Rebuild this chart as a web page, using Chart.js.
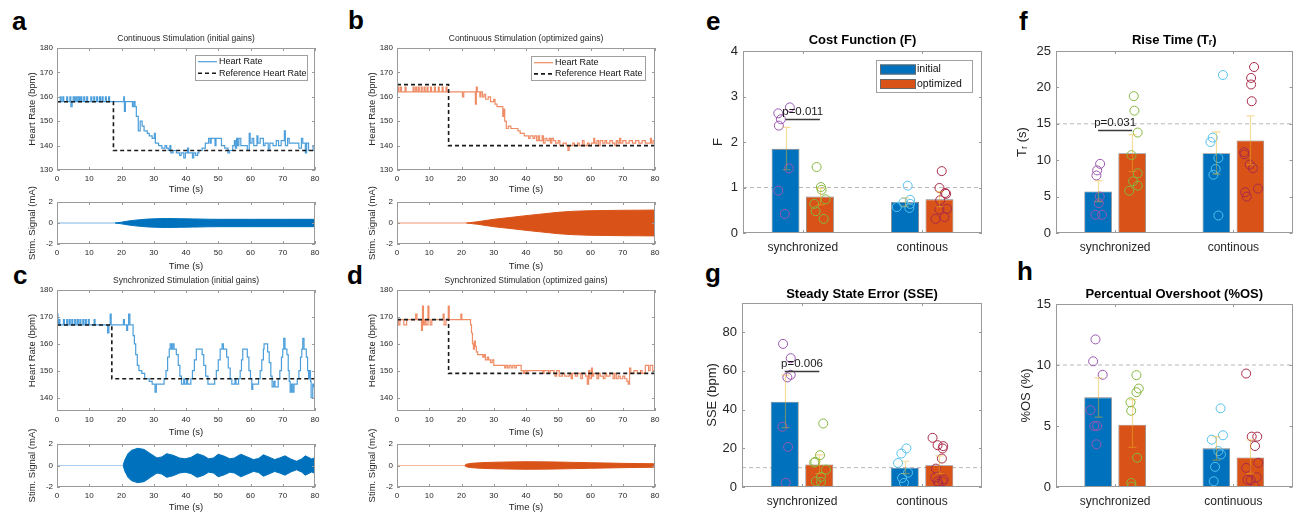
<!DOCTYPE html>
<html lang="en">
<head>
<meta charset="utf-8">
<title>Heart rate control</title>
<script src="https://cdn.jsdelivr.net/npm/chart.js@4.4.1/dist/chart.umd.min.js"></script>
<style>
  body { margin: 0; background: #fff; }
  #fig { position: relative; width: 1298px; height: 514px; overflow: hidden; font-family: 'Liberation Sans', Arial, sans-serif; }
  #fig canvas { position: absolute; }
  .tag { position: absolute; font-size: 26px; font-weight: bold; line-height: 26px; color: #000; }
</style>
</head>
<body>
<div id="fig">
  <div class="tag" style="left:12px;top:8px">a</div>
  <div class="tag" style="left:348px;top:7px">b</div>
  <div class="tag" style="left:13px;top:262px">c</div>
  <div class="tag" style="left:347px;top:262px">d</div>
  <div class="tag" style="left:706px;top:8px">e</div>
  <div class="tag" style="left:1019px;top:8px">f</div>
  <div class="tag" style="left:705px;top:260px">g</div>
  <div class="tag" style="left:1017px;top:258px">h</div>

  <canvas id="hrA" width="330" height="168" style="left:0;top:30px"></canvas>
  <canvas id="stimA" width="330" height="92" style="left:0;top:180px"></canvas>
  <canvas id="hrB" width="330" height="168" style="left:340px;top:30px"></canvas>
  <canvas id="stimB" width="330" height="92" style="left:340px;top:180px"></canvas>
  <canvas id="hrC" width="330" height="169" style="left:0;top:272px"></canvas>
  <canvas id="stimC" width="330" height="94" style="left:0;top:420px"></canvas>
  <canvas id="hrD" width="330" height="169" style="left:340px;top:272px"></canvas>
  <canvas id="stimD" width="330" height="94" style="left:340px;top:420px"></canvas>

  <canvas id="barE" width="300" height="230" style="left:690px;top:26px"></canvas>
  <canvas id="barF" width="298" height="230" style="left:1000px;top:26px"></canvas>
  <canvas id="barG" width="300" height="238" style="left:690px;top:276px"></canvas>
  <canvas id="barH" width="298" height="238" style="left:1000px;top:276px"></canvas>
</div>
<script>
// ---- ticks
const timeTicks = [0, 10, 20, 30, 40, 50, 60, 70, 80];
const hrTicksTop = [130, 140, 150, 160, 170, 180];
const hrTicksBottom = [140, 150, 160, 170, 180];
const stimTicks = [-2, 0, 2];
const groupTicks = [0, 1];

// ---- heart rate traces [time s, bpm], value holds until next point
const hrA = [[0,158],[1,160],[1.3,158],[1.8,160],[2.1,158],[3,160],[3.3,158],[4,160],[4.3,156],[4.7,158],[5,160],[5.4,158],[5.8,160],[6.2,158],[6.6,160],[7,158],[7.4,160],[7.7,158],[8.3,160],[8.6,158],[9.2,160],[9.5,158],[10.5,160],[10.8,158],[11.4,160],[11.7,158],[12.3,160],[12.6,158],[13.2,160],[13.5,158],[14,160],[14.3,158],[15,160],[15.3,158],[16,160],[16.3,158],
  [20.7,160],[20.9,154],[21.2,158],[23.4,156],[23.8,158],[24.2,156],[24.6,152],[25.2,146],[25.8,150],[26.4,148],[27,146],[28,145],[28.6,144],[29.5,143],[30.2,145],[30.5,141],[31.5,140],[32.5,139],[33.5,140],[34,139],[34.5,138],[35,140],[35.3,137],[36,138],[37,137],[38,136],[38.5,137],[39.3,135],[39.8,137],[40.5,139],[40.8,137],[42,135],[42.4,137],[43,136],[43.6,137],[44,138],[45,139],[46,141],[47,143],[47.5,141],[47.8,143],[49,140],[49.3,143],[51,140],[52,139],[53,137],[53.5,138],[54.5,140],[55,142],[55.3,139],[55.7,143],[56,140],[56.4,143],[57,140],[59,138],[59.6,145],[59.9,141],[60.5,143],[61,140],[62,144],[62.3,141],[63,143],[64,140],[64.5,141],[65.5,138],[66,141],[67,140],[68,142],[68.7,140],[69.5,142],[70.5,146],[70.8,140],[71.5,143],[72,141],[75,139],[75.8,143],[76.2,141],[77,137],[77.4,141],[78,138],[79.4,140],[80,140]];
const refA = [[0,158],[17.5,138],[80,138]];

const hrB = [[0,164],[0.5,162],[1,164],[1.4,162],[2.5,164],[2.8,162],[5,164],[5.3,162],[5.8,164],[6.1,162],[6.6,164],[6.9,162],[7.5,164],[7.8,162],[8.4,164],[8.7,162],[9.3,164],[9.6,162],[10.4,164],[10.7,162],[11.6,164],[11.9,162],[12.8,164],[13.1,162],[14,164],[14.3,162],[15.2,164],[15.5,162],
  [20.3,160],[20.7,162],[24.3,157],[24.6,164],[24.9,162],[25.7,160],[26,162],[26.5,160],[27,161],[27.5,159],[28.3,160],[29,158],[30,159],[30.4,157],[31,156],[32.8,152],[33.1,155],[33.4,150],[33.9,147],[34.5,148],[35.3,147],[37.5,146],[38.2,145],[39.5,144],[40.8,143],[41.3,144],[42.2,143],[42.7,144],[43.3,142],[43.8,144],[44.2,142],[45,144],[45.4,141],[45.9,143],[46.5,142],[47.2,143],[47.6,141],[48,143],[48.5,142],[49.2,141],[50,142],[50.5,140],[51.5,141],[52.5,140],[53,138],[53.4,140],[54.5,141],[55,140],[56,141],[56.5,140],[57.5,142],[58,140],[59,141],[59.6,140],[60.3,141],[61,143],[61.3,141],[62,142],[62.5,140],[63,142],[63.8,141],[64.5,142],[65,141],[66,142],[66.8,141],[67.5,140],[68,142],[68.5,141],[69,143],[69.4,141],[70,142],[71,141],[72,142],[73,141],[74,142],[75,141],[76,142],[77,141],[78.6,143],[78.9,141],[79.4,142],[80,142]];
const refB = [[0,165],[16,140],[80,140]];

const hrC = [[0,171],[0.3,167],[0.6,169],[0.9,167],[2,169],[2.3,167],[3,169],[3.3,167],[3.8,169],[4.1,167],[4.6,169],[4.9,167],[5.5,169],[5.8,167],[6.3,169],[6.6,167],[7.1,169],[7.4,167],[8,169],[8.3,167],[8.8,169],[9.1,167],[9.7,169],[10,167],[11.5,169],[11.8,167],[15.7,164],[16.1,167],[16.5,171],[16.8,167],[20.6,169],[20.9,167],[21.6,165],[21.9,167],[22.2,171],[22.6,167],
  [23.6,163],[24,160],[24.4,156],[24.9,152],[25.4,150],[26.3,149],[27.2,147],[28.6,146],[29.5,145],[30.4,142],[30.8,145],[33.2,147],[33.8,150],[34.3,155],[34.8,158],[35.1,160],[35.5,158],[35.9,160],[36.3,158],[37,156],[37.6,152],[38.1,148],[38.6,145],[39.3,147],[39.6,145],[40.2,147],[40.5,145],[41.5,147],[42,150],[42.6,154],[43.2,158],[45,156],[45.5,152],[46.1,148],[46.8,145],[48.9,147],[49.4,150],[50,154],[50.6,158],[51.2,160],[51.6,158],[52.6,155],[53.1,151],[53.7,147],[54.2,145],[55.2,147],[55.5,145],[56.3,147],[56.8,150],[57.2,154],[57.6,158],[59,155],[59.5,150],[60,147],[60.4,143],[60.7,145],[62.5,147],[63,150],[63.5,154],[64,158],[64.2,160],[65.3,157],[65.8,153],[66.3,148],[66.7,144],[67.2,146],[67.6,144],[68.6,147],[69.1,150],[69.6,155],[70,158],[70.3,162],[70.7,158],[71.3,156],[71.7,150],[72,146],[72.3,142],[72.7,145],[73.1,142],[73.5,145],[74.5,147],[75,150],[75.5,155],[75.9,158],[76.2,162],[76.6,158],[77.3,155],[77.7,150],[78,147],[78.3,150],[78.6,146],[78.8,140],[79.3,145],[79.6,144],[80,145]];
const refC = [[0,167],[17,147],[80,147]];

const hrD = [[0,169],[0.4,167],[0.9,169],[2.1,167],[3,169],[5.8,171],[6.2,169],[7.6,165],[7.9,174],[8.2,167],[8.6,169],[9,167],[9.6,174],[9.9,169],[10.3,167],[10.8,169],[14.3,171],[14.6,167],[15.2,169],[15.9,174],[16.2,169],[19.8,171],[20.1,169],
  [22.8,167],[23.1,164],[23.4,160],[23.7,158],[24,161],[24.3,159],[24.6,157],[25,156],[26.6,155],[27,156],[27.4,154],[28,155],[28.4,154],[29,153],[29.5,154],[30,152],[33.4,151],[33.8,152],[34.3,151],[34.8,152],[35.4,151],[35.9,152],[36.5,151],[37,152],[38.5,150],[39.2,149],[39.6,150],[40.2,149],[40.6,150],[45.3,149],[45.6,150],[47,149],[47.5,150],[48.7,149],[49,148],[49.5,150],[50.3,148],[51.3,149],[52,148],[53.5,149],[54,147],[54.4,149],[55.3,148],[56,149],[57,147],[57.5,149],[58.5,148],[59,145],[59.4,150],[59.8,147],[60.3,151],[60.6,148],[61,149],[62,147],[62.5,149],[63,148],[64,147],[64.5,149],[65,148],[66,149],[67,147],[67.5,149],[68,147],[68.6,148],[69.2,147],[70,148],[70.6,147],[71.3,146],[71.7,145],[72.1,151],[72.5,149],[73.5,150],[74.5,149],[75.5,150],[76,149],[77,152],[78,150],[78.5,152],[79.3,150],[80,150]];
const refD = [[0,169],[16,149],[80,149]];

// ---- stimulation envelope [time s, amplitude mA]
const stimA = [[0,0],[18,0],[20,0.08],[22,0.18],[24,0.26],[26,0.32],[28,0.37],[31,0.41],[34,0.43],[38,0.41],[42,0.39],[47,0.36],[50,0.35],[60,0.35],[70,0.35],[80,0.35]];
const stimB = [[0,0],[21.5,0],[25,0.12],[30,0.35],[35,0.52],[40,0.7],[45,0.86],[50,1.02],[55,1.12],[60,1.17],[65,1.19],[70,1.21],[75,1.22],[80,1.23]];
const stimC = [[0,0],[20.5,0],[21,0.5],[22,1.1],[23,1.4],[25,1.6],[27,1.5],[29,1.1],[31,0.7],[32.5,0.8],[34,1.1],[36,0.95],[38,0.7],[39.7,0.62],[41.5,0.75],[43.5,1.1],[45.5,0.9],[47,0.62],[48.5,0.7],[50,1.05],[52,0.85],[53.6,0.62],[55,0.7],[57,1.05],[59,0.8],[60.9,0.55],[62.5,0.65],[64,1.0],[66,0.75],[67.5,0.55],[69,0.7],[70.7,0.9],[72.5,0.6],[74.3,0.4],[75.8,0.6],[77,0.9],[79,0.6],[80,0.75]];
const stimD = [[0,0],[21,0],[21.5,0.12],[23,0.2],[26,0.26],[30,0.3],[35,0.33],[40,0.35],[45,0.34],[50,0.32],[55,0.29],[60,0.26],[65,0.23],[70,0.2],[75,0.18],[80,0.16]];

// ---- bar panels
const groups = ['synchronized', 'continous'];
const groupsH = ['synchronized', 'continuous'];

const costTicks = [0, 1, 2, 3, 4];
const costInitial = [1.85, 0.68], costInitialLo = [1.39, 0.59], costInitialHi = [2.32, 0.77];
const costOptimized = [0.80, 0.74], costOptimizedLo = [0.62, 0.58], costOptimizedHi = [0.98, 0.91];
const costSyncInit = [2.76, 2.63, 2.5, 2.36, 1.42, 0.93, 0.42], costSyncInitJit = [0.036, -0.061, -0.039, -0.056, 0.028, -0.061, -0.006];
const costSyncOpt = [1.45, 1.01, 0.95, 0.64, 0.74, 0.48, 0.31], costSyncOptJit = [-0.028, 0.008, 0.014, -0.047, 0.047, -0.036, 0.031];
const costContInit = [1.04, 0.73, 0.67, 0.64, 0.57, 0.55], costContInitJit = [0.022, 0.042, -0.014, 0.042, -0.069, 0.036];
const costContOpt = [1.36, 0.99, 0.88, 0.86, 0.72, 0.52, 0.53, 0.35, 0.31], costContOptJit = [0.019, 0, 0.047, 0.056, 0.006, 0, 0.064, 0.042, -0.033];

const riseTicks = [0, 5, 10, 15, 20, 25];
const riseInitial = [5.7, 10.96], riseInitialLo = [4.3, 8.1], riseInitialHi = [7.2, 13.9];
const riseOptimized = [10.96, 12.7], riseOptimizedLo = [8.45, 9.4], riseOptimizedHi = [13.5, 16.1];
const riseSyncInit = [9.5, 8.6, 7.9, 5.0, 4.1, 2.5, 2.5], riseSyncInitJit = [0.017, -0.008, -0.014, 0.014, 0.006, -0.022, 0.033];
const riseSyncOpt = [18.8, 16.8, 13.8, 10.7, 8.2, 7.1, 6.5, 5.8], riseSyncOptJit = [0.014, 0.019, 0.047, -0.006, 0.047, 0.008, 0.047, -0.025];
const riseContInit = [21.7, 13.1, 12.5, 10.3, 8.8, 8.0, 2.4], riseContInitJit = [0.056, -0.031, -0.05, 0.017, -0.006, -0.025, 0.017];
const riseContOpt = [22.8, 21.3, 20.4, 18.1, 11.1, 10.8, 9.4, 8.9, 6.1, 5.6, 5.0], riseContOptJit = [0.031, 0.006, 0.006, 0.011, -0.053, -0.05, -0.006, 0.022, 0.064, -0.044, -0.031];

const sseTicks = [0, 20, 40, 60, 80];
const sseInitial = [44.0, 10.0], sseInitialLo = [30.7, 6.9], sseInitialHi = [57.8, 13.3];
const sseOptimized = [11.6, 11.2], sseOptimizedLo = [6.9, 6.9], sseOptimizedHi = [16.6, 16.1];
const sseSyncInit = [73.9, 66.5, 57.9, 56.6, 31.1, 20.7, 2.2], sseSyncInitJit = [-0.014, 0.05, 0.05, 0.022, -0.019, 0.028, 0.008];
const sseSyncOpt = [32.8, 16.4, 13.0, 12.6, 9.0, 5.2, 2.9, 2.6], sseSyncOptJit = [0.033, 0.006, -0.033, -0.042, 0.056, 0.014, -0.028, 0.014];
const sseContInit = [19.9, 17.3, 12.4, 7.4, 4.7, 2.1], sseContInitJit = [0.014, -0.028, -0.056, 0.028, -0.022, -0.006];
const sseContOpt = [25.4, 21.6, 21.1, 19.9, 14.7, 9.5, 4.8, 4.0, 2.9, 2.9, 1.7], sseContOptJit = [-0.056, -0.014, 0.033, 0.028, 0.022, -0.028, -0.033, 0.036, 0.028, -0.014, -0.006];

const osTicks = [0, 5, 10, 15];
const osInitial = [7.35, 3.17], osInitialLo = [5.73, 2.2], osInitialHi = [8.95, 4.13];
const osOptimized = [5.1, 2.42], osOptimizedLo = [3.25, 1.1], osOptimizedHi = [7.16, 3.86];
const osSyncInit = [12.1, 10.3, 9.2, 6.3, 5.0, 5.0, 3.5], osSyncInitJit = [-0.022, -0.042, 0.039, -0.064, -0.033, -0.008, -0.014];
const osSyncOpt = [9.17, 8.07, 7.77, 6.94, 6.25, 2.4, 0.33, 0.03], osSyncOptJit = [0.036, 0.056, 0.036, -0.014, -0.008, 0.042, -0.008, -0.003];
const osContInit = [6.45, 4.24, 3.88, 2.95, 2.67, 1.65, 0.47], osContInitJit = [0.036, 0.056, -0.039, 0.017, 0.039, -0.011, -0.022];
const osContOpt = [9.3, 4.13, 4.13, 3.36, 1.98, 1.57, 0.8, 0.58, 0.55, 0.05], osContOptJit = [-0.036, 0.011, 0.058, 0.039, 0.067, -0.036, 0.053, -0.025, 0.003, 0.036];

// ---- colours
const BLUE = '#0072BD', ORANGE = '#D95319';
const HR_BLUE = '#4C9FDB', HR_ORANGE = '#EF8C66';
const PURPLE = '#9A57B0', GREEN = '#86B83F', CYAN = '#55C0EE', RED = '#A82A48';
const FONT = "'Liberation Sans', Arial, sans-serif";

// bars sit at group index -/+ BAR_SHIFT on a linear x axis
const BAR_SHIFT = 0.144, BAR_PCT = 0.81;

Chart.defaults.font.family = FONT;
Chart.defaults.color = '#262626';
Chart.defaults.animation = false;
Chart.defaults.responsive = false;
Chart.defaults.events = [];
Chart.defaults.plugins.legend.display = false;
Chart.defaults.plugins.tooltip.enabled = false;

// box round the plot area with inward ticks on all sides
const matlabAxes = {
    id: 'matlabAxes',
    afterDraw(chart) {
        const { ctx, chartArea: a } = chart;
        const xs = chart.scales.x, ys = chart.scales.y;
        const len = 3;
        ctx.save();
        ctx.strokeStyle = '#9a9a9a';
        ctx.lineWidth = 1;
        ctx.strokeRect(Math.round(a.left) + 0.5, Math.round(a.top) + 0.5, Math.round(a.width) - 1, Math.round(a.height) - 1);
        ctx.beginPath();
        xs.ticks.forEach((t, i) => {
            const px = Math.round(xs.getPixelForTick(i)) + 0.5;
            ctx.moveTo(px, a.bottom); ctx.lineTo(px, a.bottom - len);
            ctx.moveTo(px, a.top); ctx.lineTo(px, a.top + len);
        });
        ys.ticks.forEach((t, i) => {
            const py = Math.round(ys.getPixelForTick(i)) + 0.5;
            ctx.moveTo(a.left, py); ctx.lineTo(a.left + len, py);
            ctx.moveTo(a.right, py); ctx.lineTo(a.right - len, py);
        });
        ctx.stroke();
        ctx.restore();
    }
};

// legend drawn inside the plot area, top right
const boxLegend = {
    id: 'boxLegend',
    afterDraw(chart, args, o) {
        if (!o.datasets) return;
        const { ctx, chartArea: a } = chart;
        const x0 = Math.round(a.right - o.right - o.width), y0 = Math.round(a.top + o.top);
        ctx.save();
        ctx.fillStyle = '#fff';
        ctx.fillRect(x0, y0, o.width, o.height);
        ctx.strokeStyle = '#a0a0a0';
        ctx.lineWidth = 1;
        ctx.strokeRect(x0 + 0.5, y0 + 0.5, o.width, o.height);
        ctx.font = o.font;
        ctx.textBaseline = 'middle';
        o.datasets.forEach((idx, i) => {
            const ds = chart.data.datasets[idx];
            const cy = y0 + o.rowTop + i * o.rowGap;
            if (ds.type === 'bar') {
                ctx.fillStyle = ds.backgroundColor;
                ctx.fillRect(x0 + o.sampleX, cy - o.sampleH / 2, o.sampleW, o.sampleH);
                ctx.strokeStyle = '#666';
                ctx.strokeRect(x0 + o.sampleX + 0.5, cy - o.sampleH / 2 + 0.5, o.sampleW - 1, o.sampleH - 1);
            } else {
                ctx.strokeStyle = ds.borderColor;
                ctx.lineWidth = ds.borderWidth;
                ctx.setLineDash(ds.borderDash || []);
                ctx.beginPath();
                ctx.moveTo(x0 + o.sampleX, cy);
                ctx.lineTo(x0 + o.sampleX + o.sampleW, cy);
                ctx.stroke();
                ctx.setLineDash([]);
            }
            ctx.fillStyle = '#111';
            ctx.fillText(ds.label, x0 + o.textX, cy);
        });
        ctx.restore();
    }
};

// SEM error bars on each bar (errLo / errHi on the dataset)
const errorBars = {
    id: 'errorBars',
    afterDatasetsDraw(chart) {
        const { ctx } = chart;
        const ys = chart.scales.y;
        chart.data.datasets.forEach((ds, i) => {
            if (!ds.errLo) return;
            chart.getDatasetMeta(i).data.forEach((bar, j) => {
                const x = Math.round(bar.x) + 0.5;
                const top = ys.getPixelForValue(ds.errHi[j]);
                const bot = ys.getPixelForValue(ds.errLo[j]);
                ctx.save();
                ctx.strokeStyle = 'rgba(237,177,32,0.45)';
                ctx.lineWidth = 1.2;
                ctx.beginPath();
                ctx.moveTo(x, top); ctx.lineTo(x, bot);
                ctx.moveTo(x - 4, top); ctx.lineTo(x + 4, top);
                ctx.moveTo(x - 4, bot); ctx.lineTo(x + 4, bot);
                ctx.stroke();
                ctx.restore();
            });
        });
    }
};

// significance bracket between the two synchronized bars
const pValue = {
    id: 'pValue',
    afterDatasetsDraw(chart, args, o) {
        if (!o.text) return;
        const { ctx } = chart;
        const b0 = chart.getDatasetMeta(o.from).data[0];
        const b1 = chart.getDatasetMeta(o.to).data[0];
        const y = Math.round(chart.scales.y.getPixelForValue(o.value)) + 0.5;
        ctx.save();
        ctx.strokeStyle = '#3a3a3a';
        ctx.lineWidth = 1.5;
        ctx.beginPath();
        ctx.moveTo(b0.x, y); ctx.lineTo(b1.x, y);
        ctx.stroke();
        ctx.fillStyle = '#1a1a1a';
        ctx.font = '11.5px ' + FONT;
        ctx.textAlign = 'center';
        ctx.textBaseline = 'alphabetic';
        ctx.fillText(o.text, (b0.x + b1.x) / 2, y - 5);
        ctx.restore();
    }
};

Chart.register(matlabAxes, boxLegend, errorBars, pValue);

const toPoints = list => list.map(p => ({ x: p[0], y: p[1] }));
const fixSize = size => scale => { if (scale.isHorizontal()) scale.height = size; else scale.width = size; };
const useTicks = values => scale => { scale.ticks = values.map(v => ({ value: v })); };
const noGrid = { display: false, drawTicks: false };

function hrDatasets(trace, ref, color) {
    return [
        { label: 'Heart Rate', data: toPoints(trace), borderColor: color, borderWidth: 1.2, stepped: 'before', pointRadius: 0, order: 2 },
        { label: 'Reference Heart Rate', data: toPoints(ref), borderColor: '#1a1a1a', borderWidth: 1.6, borderDash: [4, 3], stepped: 'before', pointRadius: 0, order: 1 }
    ];
}

function stimDatasets(env, color, faint) {
    const line = {
        borderColor: color, borderWidth: 1, pointRadius: 0,
        segment: { borderColor: c => (c.p0.parsed.y === 0 && c.p1.parsed.y === 0 ? faint : undefined) }
    };
    return [
        { ...line, data: toPoints(env), fill: false },
        { ...line, data: env.map(p => ({ x: p[0], y: -p[1] })), fill: '-1', backgroundColor: color }
    ];
}

function timeChart(id, o) {
    return new Chart(document.getElementById(id), {
        type: 'line',
        data: { datasets: o.datasets },
        options: {
            layout: { padding: { top: o.padTop || 0, right: 15 } },
            plugins: {
                title: o.title
                    ? { display: true, fullSize: false, text: o.title, color: '#262626', font: { size: 8.5, weight: 'normal', lineHeight: 12 / 8.5 }, padding: { top: 3, bottom: 3 } }
                    : { display: false },
                boxLegend: o.legend || {}
            },
            scales: {
                x: {
                    type: 'linear', min: 0, max: 80,
                    afterBuildTicks: useTicks(timeTicks), afterFit: fixSize(o.xHeight),
                    grid: noGrid, border: { display: false },
                    ticks: { padding: 4, font: { size: 8 }, maxRotation: 0 },
                    title: { display: true, text: 'Time (s)', font: { size: 9.5 }, padding: { top: 0, bottom: o.xTitlePad } }
                },
                y: {
                    type: 'linear', min: o.yMin, max: o.yMax,
                    afterBuildTicks: useTicks(o.yTicks), afterFit: fixSize(57),
                    grid: noGrid, border: { display: false },
                    ticks: { padding: 4, font: { size: 8 } },
                    title: { display: true, text: o.yTitle, font: { size: 9.5 }, padding: { top: 27, bottom: 0 } }
                }
            }
        }
    });
}

function barChart(id, o) {
    const scatter = (vals, jit, group, side, color) => ({
        type: 'scatter', order: 1,
        data: vals.map((v, i) => ({ x: group + side * BAR_SHIFT + jit[i], y: v })),
        borderColor: color, backgroundColor: 'rgba(0,0,0,0)', borderWidth: 1, pointRadius: 4.5
    });
    const bar = (label, vals, lo, hi, side, color) => ({
        type: 'bar', label, errLo: lo, errHi: hi, order: 2,
        data: vals.map((v, i) => ({ x: groupTicks[i] + side * BAR_SHIFT, y: v })),
        backgroundColor: color, borderColor: 'rgba(70,70,70,0.7)', borderWidth: 0.8,
        grouped: false, categoryPercentage: 1, barPercentage: BAR_PCT
    });
    return new Chart(document.getElementById(id), {
        type: 'bar',
        data: {
            datasets: [
                { type: 'line', order: 3, data: [{ x: -0.5, y: o.ref }, { x: 1.5, y: o.ref }],
                  borderColor: '#b8b8b8', borderDash: [4, 3], borderWidth: 1, pointRadius: 0 },
                bar('initial', o.initial, o.initialLo, o.initialHi, -1, BLUE),
                bar('optimized', o.optimized, o.optimizedLo, o.optimizedHi, 1, ORANGE),
                scatter(o.syncInit[0], o.syncInit[1], 0, -1, PURPLE),
                scatter(o.syncOpt[0], o.syncOpt[1], 0, 1, GREEN),
                scatter(o.contInit[0], o.contInit[1], 1, -1, CYAN),
                scatter(o.contOpt[0], o.contOpt[1], 1, 1, RED)
            ]
        },
        options: {
            layout: { padding: { right: o.padRight } },
            plugins: {
                title: { display: true, fullSize: false, text: o.title, color: '#000', font: { size: 13, weight: 'bold', lineHeight: 14 / 13 }, padding: { top: o.titleTop, bottom: o.titleBottom } },
                boxLegend: o.legend || {},
                pValue: o.p || {}
            },
            scales: {
                x: {
                    type: 'linear', min: -0.5, max: 1.5, offset: false,
                    afterBuildTicks: useTicks(groupTicks), afterFit: fixSize(o.xHeight),
                    grid: noGrid, border: { display: false },
                    ticks: { padding: 7, font: { size: 12 }, maxRotation: 0, autoSkip: false, callback: v => o.labels[v] }
                },
                y: {
                    type: 'linear', min: 0, max: o.yMax,
                    afterBuildTicks: useTicks(o.yTicks), afterFit: fixSize(o.yWidth),
                    grid: noGrid, border: { display: false },
                    ticks: { padding: 5, font: { size: 13 } },
                    title: { display: true, text: o.yTitle, font: { size: 13 }, padding: { top: o.yTitlePad, bottom: 0 } }
                }
            }
        }
    });
}

// ---- time-series panels
const hrLegendA = { datasets: [0, 1], right: 8, top: 7, width: 112, height: 25, rowTop: 6.7, rowGap: 11.6, sampleX: 3, sampleW: 19, textX: 24, font: '9px ' + FONT };
const hrLegendB = { datasets: [0, 1], right: 10, top: 8, width: 114, height: 24, rowTop: 6.7, rowGap: 11.2, sampleX: 3, sampleW: 19, textX: 24, font: '9px ' + FONT };

timeChart('hrA', { title: 'Continuous Stimulation (initial gains)', datasets: hrDatasets(hrA, refA, HR_BLUE), legend: hrLegendA,
    yMin: 130, yMax: 180, yTicks: hrTicksTop, yTitle: 'Heart Rate (bpm)', xHeight: 28, xTitlePad: 3.3 });
timeChart('hrB', { title: 'Continuous Stimulation (optimized gains)', datasets: hrDatasets(hrB, refB, HR_ORANGE), legend: hrLegendB,
    yMin: 130, yMax: 180, yTicks: hrTicksTop, yTitle: 'Heart Rate (bpm)', xHeight: 28, xTitlePad: 3.3 });
timeChart('hrC', { title: 'Synchronized Stimulation (initial gains)', datasets: hrDatasets(hrC, refC, HR_BLUE),
    yMin: 135, yMax: 180, yTicks: hrTicksBottom, yTitle: 'Heart Rate (bpm)', xHeight: 30, xTitlePad: 3.3 });
timeChart('hrD', { title: 'Synchronized Stimulation (optimized gains)', datasets: hrDatasets(hrD, refD, HR_ORANGE),
    yMin: 135, yMax: 180, yTicks: hrTicksBottom, yTitle: 'Heart Rate (bpm)', xHeight: 30, xTitlePad: 3.3 });

timeChart('stimA', { datasets: stimDatasets(stimA, BLUE, '#a9cdec'), padTop: 22,
    yMin: -2, yMax: 2, yTicks: stimTicks, yTitle: 'Stim. Signal (mA)', xHeight: 28, xTitlePad: 0.3 });
timeChart('stimB', { datasets: stimDatasets(stimB, ORANGE, '#f3b9a0'), padTop: 22,
    yMin: -2, yMax: 2, yTicks: stimTicks, yTitle: 'Stim. Signal (mA)', xHeight: 28, xTitlePad: 0.3 });
timeChart('stimC', { datasets: stimDatasets(stimC, BLUE, '#a9cdec'), padTop: 24,
    yMin: -2, yMax: 2, yTicks: stimTicks, yTitle: 'Stim. Signal (mA)', xHeight: 27, xTitlePad: 1.3 });
timeChart('stimD', { datasets: stimDatasets(stimD, ORANGE, '#f3b9a0'), padTop: 24,
    yMin: -2, yMax: 2, yTicks: stimTicks, yTitle: 'Stim. Signal (mA)', xHeight: 27, xTitlePad: 1.3 });

// ---- bar panels
barChart('barE', {
    title: 'Cost Function (F)', yTitle: 'F', labels: groups, yMax: 4, yTicks: costTicks, ref: 1,
    initial: costInitial, initialLo: costInitialLo, initialHi: costInitialHi,
    optimized: costOptimized, optimizedLo: costOptimizedLo, optimizedHi: costOptimizedHi,
    syncInit: [costSyncInit, costSyncInitJit], syncOpt: [costSyncOpt, costSyncOptJit],
    contInit: [costContInit, costContInitJit], contOpt: [costContOpt, costContOptJit],
    p: { from: 1, to: 2, value: 2.5, text: 'p=0.011' },
    legend: { datasets: [1, 2], right: 10, top: 9, width: 96, height: 32, rowTop: 9.5, rowGap: 14.5, sampleX: 4, sampleW: 36, sampleH: 10, textX: 41, font: '10.5px ' + FONT },
    yWidth: 53, padRight: 8, titleTop: 7, titleBottom: 4, xHeight: 23, yTitlePad: 21
});
barChart('barF', {
    title: 'Rise Time (T\u1D63)', yTitle: 'T\u1D63 (s)', labels: groups, yMax: 25, yTicks: riseTicks, ref: 15,
    initial: riseInitial, initialLo: riseInitialLo, initialHi: riseInitialHi,
    optimized: riseOptimized, optimizedLo: riseOptimizedLo, optimizedHi: riseOptimizedHi,
    syncInit: [riseSyncInit, riseSyncInitJit], syncOpt: [riseSyncOpt, riseSyncOptJit],
    contInit: [riseContInit, riseContInitJit], contOpt: [riseContOpt, riseContOptJit],
    p: { from: 1, to: 2, value: 14.1, text: 'p=0.031' },
    yWidth: 56, padRight: 2, titleTop: 7, titleBottom: 4, xHeight: 23, yTitlePad: 15
});
barChart('barG', {
    title: 'Steady State Error (SSE)', yTitle: 'SSE (bpm)', labels: groups, yMax: 95, yTicks: sseTicks, ref: 10,
    initial: sseInitial, initialLo: sseInitialLo, initialHi: sseInitialHi,
    optimized: sseOptimized, optimizedLo: sseOptimizedLo, optimizedHi: sseOptimizedHi,
    syncInit: [sseSyncInit, sseSyncInitJit], syncOpt: [sseSyncOpt, sseSyncOptJit],
    contInit: [sseContInit, sseContInitJit], contOpt: [sseContOpt, sseContOptJit],
    p: { from: 1, to: 2, value: 60, text: 'p=0.006' },
    yWidth: 52, padRight: 8, titleTop: 11, titleBottom: 2, xHeight: 27, yTitlePad: 15
});
barChart('barH', {
    title: 'Percentual Overshoot (%OS)', yTitle: '%OS (%)', labels: groupsH, yMax: 15, yTicks: osTicks, ref: 10,
    initial: osInitial, initialLo: osInitialLo, initialHi: osInitialHi,
    optimized: osOptimized, optimizedLo: osOptimizedLo, optimizedHi: osOptimizedHi,
    syncInit: [osSyncInit, osSyncInitJit], syncOpt: [osSyncOpt, osSyncOptJit],
    contInit: [osContInit, osContInitJit], contOpt: [osContOpt, osContOptJit],
    yWidth: 56, padRight: 2, titleTop: 11, titleBottom: 3, xHeight: 27, yTitlePad: 19
});
</script>
</body>
</html>
